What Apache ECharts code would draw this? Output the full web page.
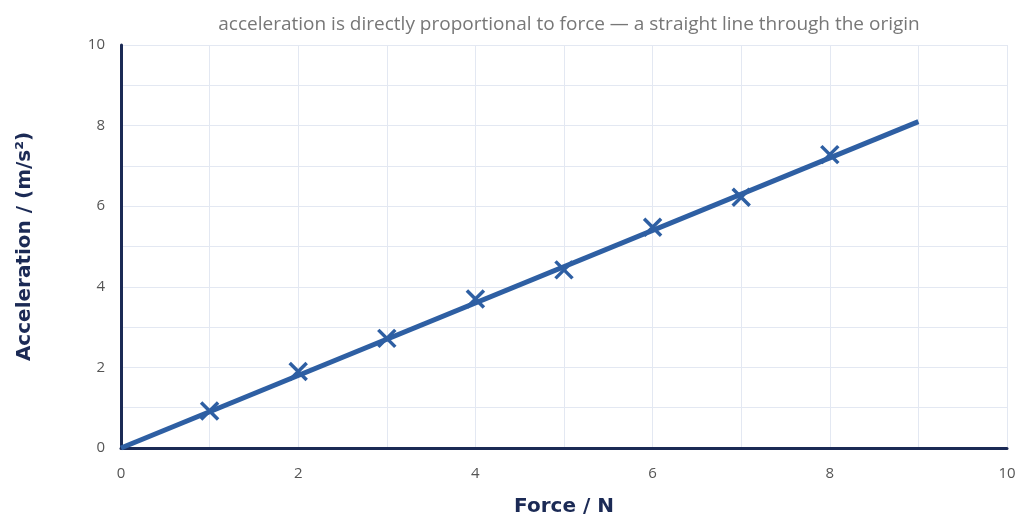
<!DOCTYPE html>
<html><head><meta charset="utf-8">
<script src="https://cdn.jsdelivr.net/npm/echarts@6/dist/echarts.min.js"></script>
<style>html,body{margin:0;padding:0;background:#fff;overflow:hidden}#c{width:100vw;height:100vh}</style>
</head><body><div id="c"></div>
<script>
const forces = [1, 2, 3, 4, 5, 6, 7, 8];
const accels = [0.92, 1.90, 2.72, 3.70, 4.42, 5.48, 6.22, 7.28];
const fitLine = [[0, 0], [9, 8.1]];
const titleText = 'acceleration is directly proportional to force — a straight line through the origin';
const xName = 'Force / N';
const yName = 'Acceleration / (m/s²)';

const font = '"Open Sans", Lato, sans-serif';
const boldFont = '"DejaVu Sans", "Open Sans", sans-serif';
const chart = echarts.init(document.getElementById('c'));
chart.setOption({
  animation: false,
  title: { text: titleText, left: 564, textAlign: 'center', top: 10,
    textStyle: { color: '#777', fontSize: 19, fontWeight: 'normal', fontFamily: font } },
  grid: { left: 121, right: 12, top: 45, bottom: 72 },
  xAxis: { type: 'value', min: 0, max: 10, interval: 1,
    name: xName, nameLocation: 'middle', nameGap: 49,
    nameTextStyle: { color: '#1b2a55', fontSize: 20, fontWeight: 'bold', fontFamily: boldFont },
    axisLine: { lineStyle: { color: '#1b2a55', width: 3 } },
    axisTick: { show: false },
    axisLabel: { color: '#555', fontSize: 15, margin: 18, fontFamily: font,
      formatter: v => (v % 2 === 0 ? String(v) : '') },
    splitLine: { lineStyle: { color: '#e3e8f2', width: 1 } } },
  yAxis: { type: 'value', min: 0, max: 10, interval: 1,
    name: yName, nameLocation: 'middle', nameGap: 86,
    nameTextStyle: { color: '#1b2a55', fontSize: 20, fontWeight: 'bold', fontFamily: boldFont },
    axisLine: { show: true, lineStyle: { color: '#1b2a55', width: 3 } },
    axisTick: { show: false },
    axisLabel: { color: '#555', fontSize: 15, margin: 16, fontFamily: font,
      formatter: v => (v % 2 === 0 ? String(v) : '') },
    splitLine: { lineStyle: { color: '#e3e8f2', width: 1 } } },
  series: [
    { type: 'line', data: fitLine, showSymbol: false, z: 2,
      lineStyle: { color: '#2e5fa3', width: 5 } },
    { type: 'scatter', data: forces.map((f, i) => [f, accels[i]]), z: 3,
      symbol: 'path://M0,0L10,10M10,0L0,10', symbolSize: 17,
      itemStyle: { color: 'transparent', borderColor: '#2e5fa3', borderWidth: 3.5, opacity: 1 } }
  ]
});
</script></body></html>
